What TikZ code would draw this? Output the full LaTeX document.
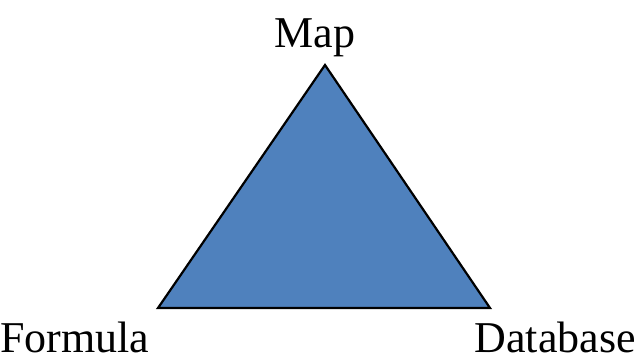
\documentclass[tikz,border=0pt]{standalone}
\usepackage{fontspec}
\setmainfont{Liberation Serif}
\definecolor{triblue}{HTML}{4F81BD}
\begin{document}
\begin{tikzpicture}[x=1pt,y=-1pt,
  lbl/.style={inner sep=0pt,font=\fontsize{44}{48}\selectfont},
  tri/.style={fill=triblue,draw=black,line width=2.2pt,line join=miter}]
\useasboundingbox (0,0) rectangle (637,363);
\coordinate (top) at (325,65);
\coordinate (bl) at (158,308);
\coordinate (br) at (490,308);
\draw[tri] (top) -- (bl) -- (br) -- cycle;
\node[lbl,anchor=base] (map) at (315,48) {Map};
\node[lbl,anchor=base west] (formula) at (0,352) {Formula};
\node[lbl,anchor=base east] (database) at (636,352) {Database};
\end{tikzpicture}
\end{document}
